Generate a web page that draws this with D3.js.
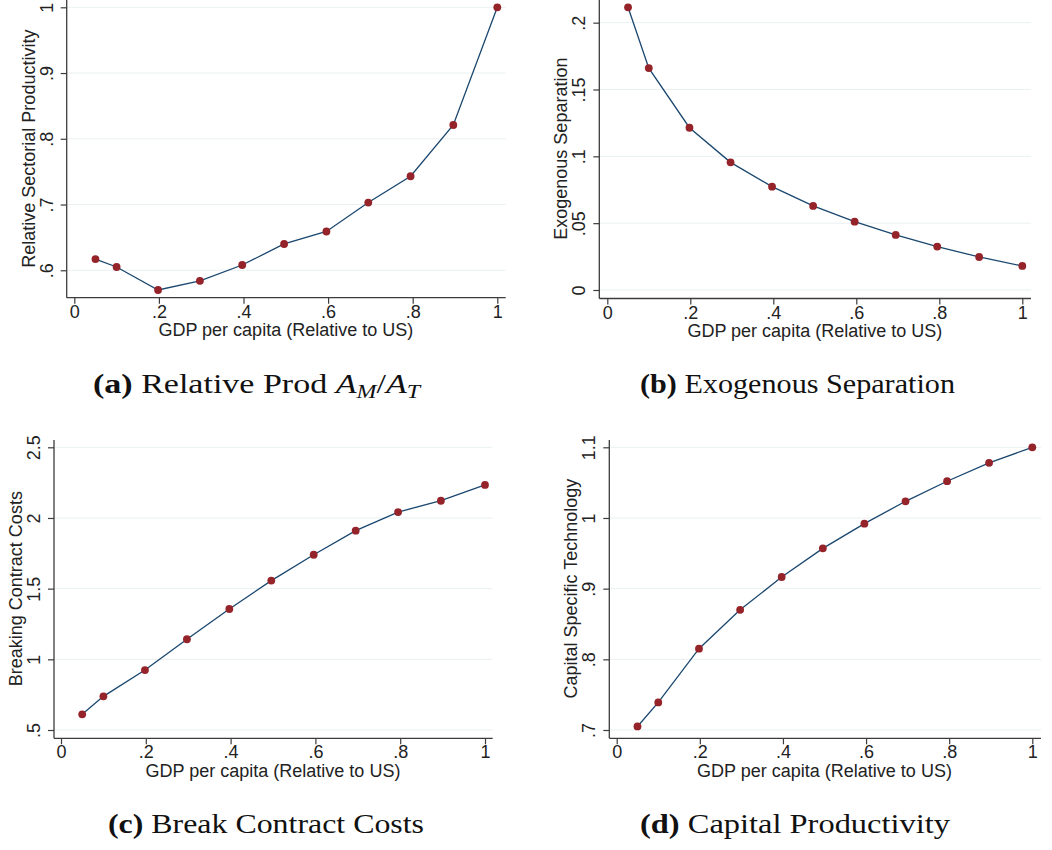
<!DOCTYPE html>
<html>
<head>
<meta charset="utf-8">
<script src="https://cdn.jsdelivr.net/npm/d3@7"></script>
<style>
  body { margin: 0; background: #fff; }
  svg { display: block; }
</style>
</head>
<body>
<div id="chart"></div>
<script>
// GDP per capita (relative to US), same grid for all four panels
const gdp = [0.05, 0.1, 0.198, 0.297, 0.397, 0.496, 0.596, 0.695, 0.795, 0.896, 1.0];

const relProd   = [0.617, 0.605, 0.570, 0.584, 0.608, 0.640, 0.659, 0.703, 0.743, 0.821, 1.0];
const exogSep   = [0.2115, 0.166, 0.1214, 0.0955, 0.0773, 0.0629, 0.0511, 0.0412, 0.0325, 0.0247, 0.018];
const breakCost = [0.611, 0.738, 0.924, 1.142, 1.356, 1.557, 1.740, 1.910, 2.042, 2.122, 2.234];
const capTech   = [0.705, 0.739, 0.815, 0.870, 0.9165, 0.957, 0.992, 1.0236, 1.052, 1.078, 1.1];

const xTicks = [0, 0.2, 0.4, 0.6, 0.8, 1];
const xTickLabels = ["0", ".2", ".4", ".6", ".8", "1"];

const ticksA = [0.6, 0.7, 0.8, 0.9, 1];
const labelsA = [".6", ".7", ".8", ".9", "1"];
const ticksB = [0, 0.05, 0.1, 0.15, 0.2];
const labelsB = ["0", ".05", ".1", ".15", ".2"];
const ticksC = [0.5, 1, 1.5, 2, 2.5];
const labelsC = [".5", "1", "1.5", "2", "2.5"];
const ticksD = [0.7, 0.8, 0.9, 1, 1.1];
const labelsD = [".7", ".8", ".9", "1", "1.1"];

const xTitle = "GDP per capita (Relative to US)";

const W = 1052, H = 850;
const svg = d3.select('#chart').append('svg')
    .attr('width', W)
    .attr('height', H);

const navy = '#1a476f';
const maroon = '#95232a';
const axisCol = '#3c3c3c';
const gridCol = '#eaf0f2';
const sans = "'Liberation Sans', Arial, sans-serif";
const serif = "'Liberation Serif', 'Times New Roman', serif";

// one Stata-like panel
function drawPanel(p) {
    const g = svg.append('g');
    const innerTop = p.top + 7.3, innerBottom = p.top + 290;

    const yMin = Math.min(d3.min(p.values), d3.min(p.ticks));
    const yMax = Math.max(d3.max(p.values), d3.max(p.ticks));
    const x = d3.scaleLinear().domain([0, 1]).range([p.x0, p.x1]);
    const y = d3.scaleLinear().domain([yMin, yMax]).range([innerBottom, innerTop]);

    // grid lines
    g.append('g')
        .selectAll('line')
        .data(p.ticks)
        .enter()
        .append('line')
        .attr('x1', p.axisX)
        .attr('x2', p.right)
        .attr('y1', d => y(d))
        .attr('y2', d => y(d))
        .attr('stroke', gridCol)
        .attr('stroke-width', 1);

    // y axis
    const yAxis = g.append('g')
        .attr('transform', `translate(${p.axisX},0)`)
        .call(d3.axisLeft(y).tickValues(p.ticks)
            .tickFormat((d, i) => p.labels[i])
            .tickSize(6).tickSizeOuter(0));
    yAxis.select('.domain').remove();
    yAxis.selectAll('.tick line').attr('stroke', axisCol).attr('stroke-width', 1.2);
    yAxis.selectAll('.tick text')
        .attr('x', null).attr('dy', null)
        .attr('transform', 'translate(-14,0) rotate(-90)')
        .attr('text-anchor', 'middle')
        .attr('fill', '#222')
        .style('font-family', sans)
        .style('font-size', '18px');

    // x axis
    const xAxis = g.append('g')
        .attr('transform', `translate(0,${p.axisY})`)
        .call(d3.axisBottom(x).tickValues(xTicks)
            .tickFormat((d, i) => xTickLabels[i])
            .tickSize(6).tickSizeOuter(0));
    xAxis.select('.domain').remove();
    xAxis.selectAll('.tick line').attr('stroke', axisCol).attr('stroke-width', 1.2);
    xAxis.selectAll('.tick text')
        .attr('y', 20).attr('dy', null)
        .attr('fill', '#222')
        .style('font-family', sans)
        .style('font-size', '18px');

    // axis lines
    g.append('line')
        .attr('x1', p.axisX).attr('x2', p.axisX)
        .attr('y1', p.top).attr('y2', p.axisY)
        .attr('stroke', axisCol).attr('stroke-width', 1.3);
    g.append('line')
        .attr('x1', p.axisX).attr('x2', p.right)
        .attr('y1', p.axisY).attr('y2', p.axisY)
        .attr('stroke', axisCol).attr('stroke-width', 1.3);

    // axis titles
    g.append('text')
        .attr('transform', `translate(${p.axisX - 32},${(innerTop + innerBottom) / 2}) rotate(-90)`)
        .attr('text-anchor', 'middle')
        .attr('fill', '#222')
        .style('font-family', sans)
        .style('font-size', '18px')
        .text(p.yTitle);
    g.append('text')
        .attr('x', (p.x0 + p.x1) / 2)
        .attr('y', p.axisY + 38.5)
        .attr('text-anchor', 'middle')
        .attr('fill', '#222')
        .style('font-family', sans)
        .style('font-size', '18px')
        .text(xTitle);

    // connected line + markers
    const pts = gdp.map((d, i) => ({ x: d, y: p.values[i] }));
    g.append('path')
        .datum(pts)
        .attr('fill', 'none')
        .attr('stroke', navy)
        .attr('stroke-width', 1.3)
        .attr('d', d3.line().x(d => x(d.x)).y(d => y(d.y)));
    g.append('g')
        .selectAll('circle')
        .data(pts)
        .enter()
        .append('circle')
        .attr('cx', d => x(d.x))
        .attr('cy', d => y(d.y))
        .attr('r', 3.9)
        .attr('fill', maroon);

    // caption below panel (LaTeX-like, stretched to the original width)
    const cap = svg.append('text')
        .attr('x', p.capX - p.capW / 2)
        .attr('y', p.top + 393)
        .attr('textLength', p.capW)
        .attr('lengthAdjust', 'spacingAndGlyphs')
        .attr('fill', '#111')
        .style('font-family', serif)
        .style('font-size', '27px');
    cap.append('tspan').style('font-weight', 'bold').text(p.capTag);
    p.capParts.forEach(part => {
        const t = cap.append('tspan').text(part.t);
        if (part.it) t.style('font-style', 'italic');
        if (part.sub) t.attr('baseline-shift', '-25%').style('font-size', '19px');
    });
}

drawPanel({
    top: 0, axisX: 66.7, x0: 74.3, x1: 497.3, right: 505.7, axisY: 297.7,
    values: relProd, ticks: ticksA, labels: labelsA,
    yTitle: 'Relative Sectorial Productivity',
    capX: 256.5, capW: 327, capTag: '(a)',
    capParts: [{ t: ' Relative Prod ' }, { t: 'A', it: true }, { t: 'M', it: true, sub: true },
        { t: '/' }, { t: 'A', it: true }, { t: 'T', it: true, sub: true }]
});
drawPanel({
    top: 0, axisX: 599.3, x0: 607.3, x1: 1022.3, right: 1031, axisY: 298.5,
    values: exogSep, ticks: ticksB, labels: labelsB,
    yTitle: 'Exogenous Separation',
    capX: 797.5, capW: 315, capTag: '(b)',
    capParts: [{ t: ' Exogenous Separation' }]
});
drawPanel({
    top: 440, axisX: 54, x0: 61, x1: 485, right: 492.7, axisY: 738.3,
    values: breakCost, ticks: ticksC, labels: labelsC,
    yTitle: 'Breaking Contract Costs',
    capX: 266, capW: 316, capTag: '(c)',
    capParts: [{ t: ' Break Contract Costs' }]
});
drawPanel({
    top: 440, axisX: 609.3, x0: 616.7, x1: 1032.3, right: 1041, axisY: 738.3,
    values: capTech, ticks: ticksD, labels: labelsD,
    yTitle: 'Capital Specific Technology',
    capX: 795, capW: 310, capTag: '(d)',
    capParts: [{ t: ' Capital Productivity' }]
});
</script>
</body>
</html>
